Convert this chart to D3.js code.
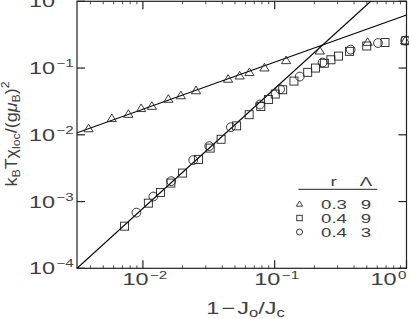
<!DOCTYPE html>
<html>
<head>
<meta charset="utf-8">
<script src="https://cdn.jsdelivr.net/npm/d3@7"></script>
<style>
  html, body { margin: 0; padding: 0; background: #fff; }
  svg { display: block; }
</style>
</head>
<body>
<svg id="svg"></svg>
<script>
// data (x = 1 - Jo/Jc, y = kT chi_loc / (g muB)^2)
const triX = [0.00387, 0.00581, 0.00776, 0.0097, 0.0117, 0.0156, 0.0194, 0.0253, 0.0443, 0.0542, 0.0643, 0.0836, 0.122, 0.220, 0.507, 0.977]
const triY = [0.0124, 0.0176, 0.0204, 0.0249, 0.0269, 0.0343, 0.0387, 0.0460, 0.0684, 0.0766, 0.0862, 0.101, 0.130, 0.181, 0.244, 0.257]

const sqX = [0.00726, 0.0110, 0.0136, 0.0163, 0.0200, 0.0264, 0.0324, 0.0392, 0.0514, 0.0640, 0.0784, 0.0896, 0.101, 0.115, 0.140, 0.178, 0.204, 0.238, 0.267, 0.305, 0.370, 0.499, 0.687, 0.986]
const sqY = [0.000428, 0.000946, 0.00137, 0.00189, 0.00267, 0.00428, 0.00632, 0.00857, 0.0136, 0.0200, 0.0265, 0.0337, 0.0408, 0.0473, 0.0638, 0.0863, 0.100, 0.118, 0.133, 0.151, 0.178, 0.214, 0.241, 0.257]

const cirX = [0.00893, 0.0120, 0.0164, 0.0241, 0.0319, 0.0465, 0.0773, 0.110, 0.155, 0.231, 0.377, 0.608, 0.977]
const cirY = [0.000682, 0.00119, 0.00202, 0.00418, 0.00677, 0.0130, 0.0284, 0.0481, 0.0746, 0.121, 0.189, 0.237, 0.258]

// the two straight power-law lines
const fitTriX = [0.003162, 1]
const fitTriY = [0.01072, 0.624]
const fitSqX = [0.003162, 1]
const fitSqY = [0.0001, 3.07]

const xTicks = [1e-2, 1e-1, 1e0]
const xTickExp = ['−2', '−1', '0']
const yTicks = [1e-4, 1e-3, 1e-2, 1e-1, 1e0]
const yTickExp = ['−4', '−3', '−2', '−1', '0']

const legendMarks = ['tri', 'sq', 'cir']
const legendR = ['0.3', '0.4', '0.4']
const legendLambda = ['9', '9', '3']

const W = 409, H = 319
const plotL = 77, plotR = 406.5, plotT = 1.3, plotB = 268.3
const ink = '#222'
const textInk = '#404040'
const font = 'Liberation Sans, Arial, Helvetica, sans-serif'

const svg = d3.select('#svg').attr('width', W).attr('height', H)

const x = d3.scaleLog().domain([Math.pow(10, -2.5), 1]).range([plotL, plotR])
const y = d3.scaleLog().domain([1e-4, 1]).range([plotB, plotT])

// wide-looking text: glyphs stretched along the reading direction
function label(px, py, anchor, size, parts, rot, sx) {
    let g = svg.append('g')
        .attr('transform', `translate(${px},${py}) rotate(${rot || 0}) scale(${sx || 1.38},1)`)
    let t = g.append('text')
        .attr('font-family', font)
        .attr('font-size', size)
        .attr('fill', textInk)
        .attr('text-anchor', anchor)
    let shift = 0
    parts.forEach(p => {
        let dy = (p.dy || 0) - shift
        shift = p.dy || 0
        let s = t.append('tspan').text(p.t).attr('dy', dy)
        if (p.size) s.attr('font-size', p.size)
        if (p.italic) s.attr('font-style', 'italic')
        if (p.dx) s.attr('dx', p.dx)
    })
    return t
}

// frame
svg.append('rect')
    .attr('x', plotL).attr('y', plotT)
    .attr('width', plotR - plotL).attr('height', plotB - plotT)
    .attr('fill', 'none')
    .attr('stroke', ink)
    .attr('stroke-width', 1.2)

// x ticks, major + minor, bottom and top
let minor = []
for (let e = -3; e <= 0; e++) {
    for (let m = 2; m <= 9; m++) {
        let v = m * Math.pow(10, e)
        if (v > x.domain()[0] && v < 1) minor.push(v)
    }
}
xTicks.forEach(v => {
    svg.append('line').attr('x1', x(v)).attr('x2', x(v)).attr('y1', plotB).attr('y2', plotB - 8)
        .attr('stroke', ink).attr('stroke-width', 1.2)
    svg.append('line').attr('x1', x(v)).attr('x2', x(v)).attr('y1', plotT).attr('y2', plotT + 8)
        .attr('stroke', ink).attr('stroke-width', 1.2)
})
minor.forEach(v => {
    svg.append('line').attr('x1', x(v)).attr('x2', x(v)).attr('y1', plotB).attr('y2', plotB - 3)
        .attr('stroke', ink).attr('stroke-width', 0.8)
    svg.append('line').attr('x1', x(v)).attr('x2', x(v)).attr('y1', plotT).attr('y2', plotT + 3)
        .attr('stroke', ink).attr('stroke-width', 0.8)
})

// y ticks, left and right
yTicks.forEach(v => {
    svg.append('line').attr('x1', plotL).attr('x2', plotL + 8).attr('y1', y(v)).attr('y2', y(v))
        .attr('stroke', ink).attr('stroke-width', 1.2)
    svg.append('line').attr('x1', plotR).attr('x2', plotR - 8).attr('y1', y(v)).attr('y2', y(v))
        .attr('stroke', ink).attr('stroke-width', 1.2)
})

// tick labels
xTicks.forEach((v, i) => {
    let last = i == xTicks.length - 1
    label(last ? plotR : x(v) + 2, 285, last ? 'end' : 'middle', 17,
        [{ t: '10' }, { t: xTickExp[i], size: 11, dy: -6, dx: 1 }])
})
yTicks.forEach((v, i) => {
    label(55, y(v) + 6, 'end', 17, [{ t: '10' }])
    label(56.5, y(v) - 1, 'start', 11, [{ t: yTickExp[i] }])
})

// axis titles
label(245.5, 313.5, 'middle', 17, [
    { t: '1' }, { t: '−', dx: 1.5 }, { t: 'J', dx: 1.5 }, { t: 'o', size: 12, dy: 3 },
    { t: '/', dy: 0 }, { t: 'J' }, { t: 'c', size: 12, dy: 3 }
])
label(17, 134, 'middle', 16, [
    { t: 'k' }, { t: 'B', size: 11, dy: 3 }, { t: 'T', dy: 0 }, { t: 'χ' },
    { t: 'loc', size: 11, dy: 3 }, { t: '/', dy: 0 }, { t: '(g' }, { t: 'μ', italic: true },
    { t: 'B', size: 11, dy: 3 }, { t: ')', dy: 0 }, { t: '2', size: 11, dy: -8 }
], -90, 1.12)

// fit lines, clipped to the frame
svg.append('clipPath').attr('id', 'plotclip')
    .append('rect')
    .attr('x', plotL).attr('y', plotT)
    .attr('width', plotR - plotL).attr('height', plotB - plotT)

let line = d3.line().x(d => x(d[0])).y(d => y(d[1]))
let lines = svg.append('g').attr('clip-path', 'url(#plotclip)')
lines.append('path')
    .attr('d', line(d3.zip(fitTriX, fitTriY)))
    .attr('fill', 'none').attr('stroke', '#000').attr('stroke-width', 1.2)
lines.append('path')
    .attr('d', line(d3.zip(fitSqX, fitSqY)))
    .attr('fill', 'none').attr('stroke', '#000').attr('stroke-width', 1.2)

// markers
function mark(kind, px, py, s) {
    let el
    if (kind == 'tri') {
        el = svg.append('path')
            .attr('d', `M${px - 4.6 * s},${py + 3.2 * s} L${px + 4.6 * s},${py + 3.2 * s} L${px},${py - 4.4 * s} Z`)
    } else if (kind == 'sq') {
        el = svg.append('rect')
            .attr('x', px - 4 * s).attr('y', py - 4 * s)
            .attr('width', 8 * s).attr('height', 8 * s)
    } else {
        el = svg.append('circle').attr('cx', px).attr('cy', py).attr('r', 4.4 * s)
    }
    el.attr('fill', 'none').attr('stroke', ink).attr('stroke-width', 0.9)
}

d3.zip(sqX, sqY).forEach(d => mark('sq', x(d[0]), y(d[1]), 1))
d3.zip(cirX, cirY).forEach(d => mark('cir', x(d[0]), y(d[1]), 1))
d3.zip(triX, triY).forEach(d => mark('tri', x(d[0]), y(d[1]), 1))

// legend table
label(333.5, 186, 'middle', 13.5, [{ t: 'r' }])
label(366, 186, 'middle', 13.5, [{ t: 'Λ' }])
svg.append('line')
    .attr('x1', 298.3).attr('x2', 377.3).attr('y1', 189.3).attr('y2', 189.3)
    .attr('stroke', ink).attr('stroke-width', 1)

legendMarks.forEach((m, i) => {
    let base = 208.5 + i * 14
    mark(m, 299.5, base - 4.5, 0.68)
    label(334, base, 'middle', 13.5, [{ t: legendR[i] }])
    label(366, base, 'middle', 13.5, [{ t: legendLambda[i] }])
})
</script>
</body>
</html>
